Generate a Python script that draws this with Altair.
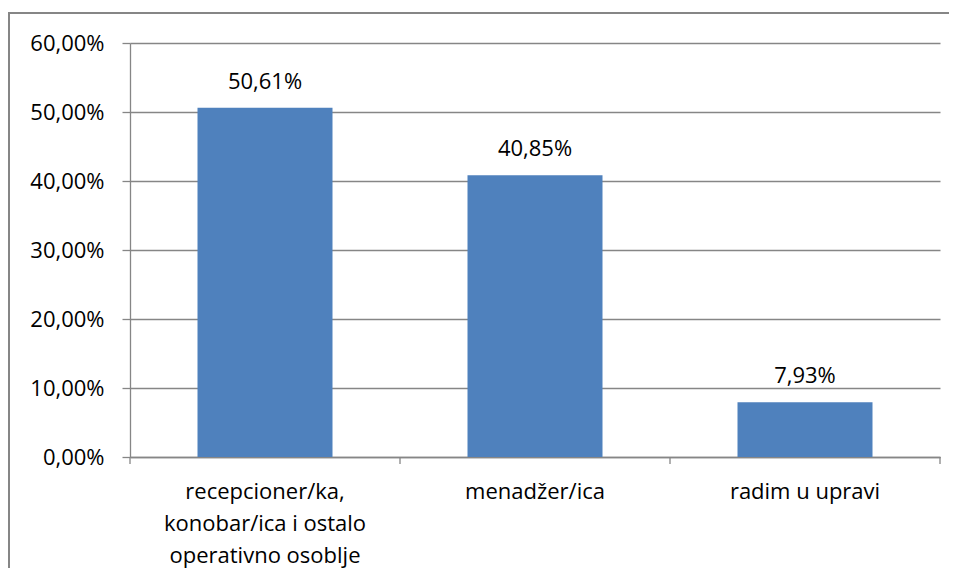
import altair as alt
import pandas as pd

categories = [
    "recepcioner/ka,\nkonobar/ica i ostalo\noperativno osoblje",
    "menadžer/ica",
    "radim u upravi",
]
values = [50.61, 40.85, 7.93]
y_ticks = [0, 10, 20, 30, 40, 50, 60]
boundaries = [0, 1, 2, 3]

FONT = "Open Sans"
FS = 22
GRAY = "#868686"
BAR = "#4F81BD"

df = pd.DataFrame({
    "cat": categories,
    "val": values,
    "txt": [f"{v:.2f}%".replace(".", ",") for v in values],
})
bdf = pd.DataFrame({"b": boundaries})
frame_df = pd.DataFrame({"k": [0]})

xscale = alt.Scale(paddingInner=0.5, paddingOuter=0.25)

xaxis = alt.Axis(
    title=None,
    labelAngle=0,
    labelExpr="split(datum.label, '\\n')",
    labelLineHeight=32,
    labelFontSize=FS,
    labelFont=FONT,
    labelColor="#000000",
    labelBaseline="top",
    labelPadding=24,
    labelLimit=0,
    ticks=False,
    domainColor=GRAY,
    domainWidth=1.3,
    grid=False,
)

yaxis = alt.Axis(
    title=None,
    values=y_ticks,
    labelExpr="replace(format(datum.value, '.2f'), '.', ',') + '%'",
    labelFontSize=FS,
    labelFont=FONT,
    labelColor="#000000",
    labelPadding=18,
    tickSize=8,
    tickColor=GRAY,
    tickWidth=1.3,
    domainColor=GRAY,
    domainWidth=1.3,
    grid=True,
    gridColor=GRAY,
    gridWidth=1.3,
)
yscale = alt.Scale(domain=[0, 60], nice=False)

xenc = alt.X("cat:N", sort=categories, scale=xscale, axis=xaxis)
yenc = alt.Y("val:Q", scale=yscale, axis=yaxis)

bars = alt.Chart(df).mark_bar(color=BAR).encode(x=xenc, y=yenc)

labels = alt.Chart(df).mark_text(
    font=FONT, fontSize=FS, color="#000000", baseline="alphabetic", dy=-19
).encode(x=xenc, y=yenc, text="txt:N")

main = alt.layer(bars, labels)

ticks = alt.Chart(bdf).mark_rule(color=GRAY, strokeWidth=1.3).encode(
    x=alt.X("b:Q", scale=alt.Scale(domain=[0, 3], nice=False, zero=False), axis=None),
    y=alt.value(414),
    y2=alt.value(421),
)

frame_top = alt.Chart(frame_df).mark_rule(color=GRAY, strokeWidth=2).encode(
    x=alt.value(-121), x2=alt.value(819), y=alt.value(-30), y2=alt.value(-30)
)
frame_left = alt.Chart(frame_df).mark_rule(color=GRAY, strokeWidth=2).encode(
    x=alt.value(-121), x2=alt.value(-121), y=alt.value(-31), y2=alt.value(525)
)

chart = (
    alt.layer(frame_top, frame_left, main, ticks)
    .resolve_scale(x="independent")
    .properties(
        width=810,
        height=414,
        autosize=alt.AutoSizeParams(type="none"),
        padding={"left": 122, "top": 35, "right": 9, "bottom": 111},
        view=alt.ViewBackground(stroke="transparent", strokeOpacity=0),
    )
    .configure_view(stroke="transparent", strokeWidth=0, strokeOpacity=0)
    .configure(font=FONT)
)

chart.save("out.html", embed_options={"renderer": "svg", "actions": False})
